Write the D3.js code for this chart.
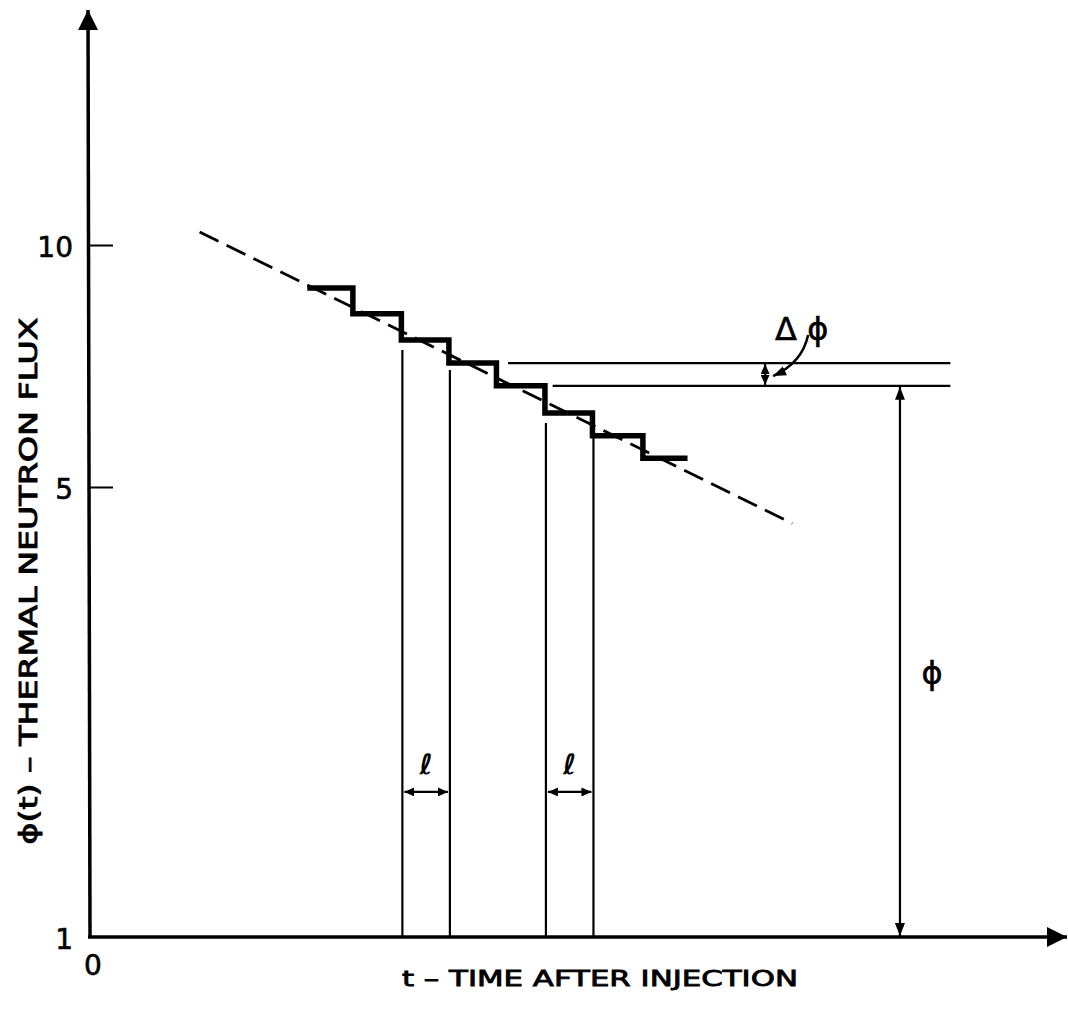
<!DOCTYPE html>
<html>
<head>
<meta charset="utf-8">
<script src="https://cdn.jsdelivr.net/npm/d3@7"></script>
<style>
  html, body { margin: 0; padding: 0; background: #fff; }
  svg { display: block; }
  text { fill: #000; font-family: "DejaVu Sans", sans-serif; }
</style>
</head>
<body>
<div id="chart"></div>
<script>
// step boundaries along the time axis (arbitrary units) and flux level of each step
const stepTimes = [22.4, 27.1, 32.1, 37.0, 41.9, 46.9, 51.8, 57.0, 61.6];
const stepFlux = [8.84, 8.21, 7.62, 7.13, 6.68, 6.18, 5.79, 5.43];

// dashed exponential decay line (two end points)
const trendTime = [11.3, 72.4];
const trendFlux = [10.38, 4.39];

const yTickValues = [1, 5, 10];
const yTickLabels = ["1", "5", "10"];

// annotation times
const ellPairs = [[2, 3], [5, 6]];   // indexes into stepTimes
const ellFlux = 1.68;
const deltaTime = 69.6;
const refLineStart = [43.1, 47.7];
const refLineEnd = 88.7;
const phiTime = 83.5;

const width = 1068;
const height = 1021;

const x = d3.scaleLinear()
    .domain([0, 100])
    .range([90, 1060]);

// drawn schematically: ticks are not exact log spacing
const y = d3.scaleLog()
    .domain([1, 5, 10])
    .range([937, 487, 245]);

const svg = d3.select("#chart")
    .append("svg")
    .attr("width", width)
    .attr("height", height);

const defs = svg.append("defs");
function marker(id, len, half) {
    defs.append("marker")
        .attr("id", id)
        .attr("viewBox", `0 ${-half} ${len} ${2 * half}`)
        .attr("refX", len)
        .attr("refY", 0)
        .attr("markerWidth", len)
        .attr("markerHeight", 2 * half)
        .attr("markerUnits", "userSpaceOnUse")
        .attr("orient", "auto-start-reverse")
        .append("path")
        .attr("d", `M0,${-half}L${len},0L0,${half}Z`)
        .attr("fill", "#000");
}
marker("axisHead", 20, 10);
marker("head", 13, 5);
marker("smallHead", 10, 4.5);

// axes lines with arrows
svg.append("line")
    .attr("x1", x(0)).attr("y1", y(1))
    .attr("x2", x(0) - 2).attr("y2", 10)
    .attr("stroke", "#000").attr("stroke-width", 3.5)
    .attr("marker-end", "url(#axisHead)");

svg.append("line")
    .attr("x1", x(0) - 2).attr("y1", y(1))
    .attr("x2", 1067).attr("y2", y(1))
    .attr("stroke", "#000").attr("stroke-width", 3.5)
    .attr("marker-end", "url(#axisHead)");

// y axis ticks (inside) with labels to the left
const yAxis = d3.axisLeft(y)
    .tickValues(yTickValues)
    .tickFormat((d, i) => yTickLabels[i])
    .tickSizeInner(-24)
    .tickSizeOuter(0)
    .tickPadding(16);

const gy = svg.append("g")
    .attr("transform", `translate(${x(0) - 1},0)`)
    .call(yAxis);
gy.select(".domain").remove();
gy.selectAll(".tick line")
    .attr("stroke", "#000")
    .attr("stroke-width", 2)
    .attr("display", d => d === 1 ? "none" : null);
gy.selectAll(".tick text")
    .attr("font-family", "DejaVu Sans Condensed, DejaVu Sans, sans-serif")
    .attr("font-size", 28)
    .attr("fill", "#000")
    .attr("stroke", "#000")
    .attr("stroke-width", 0.6)
    .attr("dy", "0.4em");

// origin label
svg.append("text")
    .attr("x", x(0) + 3)
    .attr("y", y(1) + 38)
    .attr("text-anchor", "middle")
    .attr("font-family", "DejaVu Sans Condensed, DejaVu Sans, sans-serif")
    .attr("font-size", 28)
    .attr("stroke", "#000")
    .attr("stroke-width", 0.6)
    .text("0");

// axis titles
svg.append("text")
    .attr("transform", "translate(37,581) rotate(-90)")
    .attr("text-anchor", "middle")
    .attr("font-size", 25)
    .attr("stroke", "#000")
    .attr("stroke-width", 0.9)
    .attr("textLength", 527)
    .attr("lengthAdjust", "spacingAndGlyphs")
    .text("ϕ(t) – THERMAL NEUTRON FLUX");

svg.append("text")
    .attr("x", 600)
    .attr("y", 986)
    .attr("text-anchor", "middle")
    .attr("font-size", 21)
    .attr("stroke", "#000")
    .attr("stroke-width", 0.8)
    .attr("textLength", 396)
    .attr("lengthAdjust", "spacingAndGlyphs")
    .text("t – TIME AFTER INJECTION");

// dashed trend line
svg.append("line")
    .attr("x1", x(trendTime[0])).attr("y1", y(trendFlux[0]))
    .attr("x2", x(trendTime[1])).attr("y2", y(trendFlux[1]))
    .attr("stroke", "#000")
    .attr("stroke-width", 2.8)
    .attr("stroke-dasharray", "21,9");

// staircase
const stairPts = [];
stepFlux.forEach((f, i) => {
    stairPts.push([stepTimes[i], f]);
    stairPts.push([stepTimes[i + 1], f]);
});
svg.append("path")
    .datum(stairPts)
    .attr("d", d3.line().x(d => x(d[0])).y(d => y(d[1])))
    .attr("fill", "none")
    .attr("stroke", "#000")
    .attr("stroke-width", 5.5)
    .attr("stroke-linejoin", "miter");

// thin drop lines under selected steps
const dropIdx = [2, 3, 5, 6];
const dropFlux = [stepFlux[2], stepFlux[3], stepFlux[5], stepFlux[6]];
const dropGap = [10, 7, 10, 0];
svg.selectAll("line.drop")
    .data(dropIdx)
    .enter()
    .append("line")
    .classed("drop", true)
    .attr("x1", d => x(stepTimes[d]) + 1)
    .attr("x2", d => x(stepTimes[d]) + 1)
    .attr("y1", (d, i) => y(dropFlux[i]) + dropGap[i])
    .attr("y2", y(1))
    .attr("stroke", "#000")
    .attr("stroke-width", 2.2);

// l arrows between drop lines
ellPairs.forEach(p => {
    const x1 = x(stepTimes[p[0]]) + 2, x2 = x(stepTimes[p[1]]);
    svg.append("line")
        .attr("x1", x1 + 1).attr("x2", x2 - 1)
        .attr("y1", y(ellFlux)).attr("y2", y(ellFlux))
        .attr("stroke", "#000").attr("stroke-width", 2.2)
        .attr("marker-start", "url(#smallHead)")
        .attr("marker-end", "url(#smallHead)");
    svg.append("text")
        .attr("x", (x1 + x2) / 2)
        .attr("y", y(ellFlux) - 18)
        .attr("text-anchor", "middle")
        .attr("font-size", 28)
        .attr("font-weight", "bold")
        .attr("font-style", "italic")
        .text("ℓ");
});

// reference lines for delta phi
refLineStart.forEach((t0, i) => {
    svg.append("line")
        .attr("x1", x(t0)).attr("x2", x(refLineEnd))
        .attr("y1", y(stepFlux[3 + i])).attr("y2", y(stepFlux[3 + i]))
        .attr("stroke", "#000").attr("stroke-width", 2.2);
});

// small delta arrow
svg.append("line")
    .attr("x1", x(deltaTime)).attr("x2", x(deltaTime))
    .attr("y1", y(stepFlux[3]) + 1).attr("y2", y(stepFlux[4]) - 1)
    .attr("stroke", "#000").attr("stroke-width", 2.2)
    .attr("marker-start", "url(#smallHead)")
    .attr("marker-end", "url(#smallHead)");

// curved leader from label
const lx = x(deltaTime);
const ly = y(stepFlux[3]);
svg.append("path")
    .attr("d", `M${lx + 43},${ly - 28} Q${lx + 37},${ly} ${lx + 8},${ly + 13}`)
    .attr("fill", "none")
    .attr("stroke", "#000").attr("stroke-width", 2.5)
    .attr("marker-end", "url(#head)");

svg.append("text")
    .attr("x", lx + 10)
    .attr("y", ly - 23)
    .attr("font-size", 32)
    .attr("stroke", "#000")
    .attr("stroke-width", 0.6)
    .text("Δ ϕ");

// big phi arrow
svg.append("line")
    .attr("x1", x(phiTime)).attr("x2", x(phiTime))
    .attr("y1", y(stepFlux[4]) + 1).attr("y2", y(1) - 1)
    .attr("stroke", "#000").attr("stroke-width", 2.2)
    .attr("marker-start", "url(#head)")
    .attr("marker-end", "url(#head)");

svg.append("text")
    .attr("x", x(phiTime) + 32)
    .attr("y", 684)
    .attr("text-anchor", "middle")
    .attr("font-size", 32)
    .attr("stroke", "#000")
    .attr("stroke-width", 0.6)
    .text("ϕ");
</script>
</body>
</html>
